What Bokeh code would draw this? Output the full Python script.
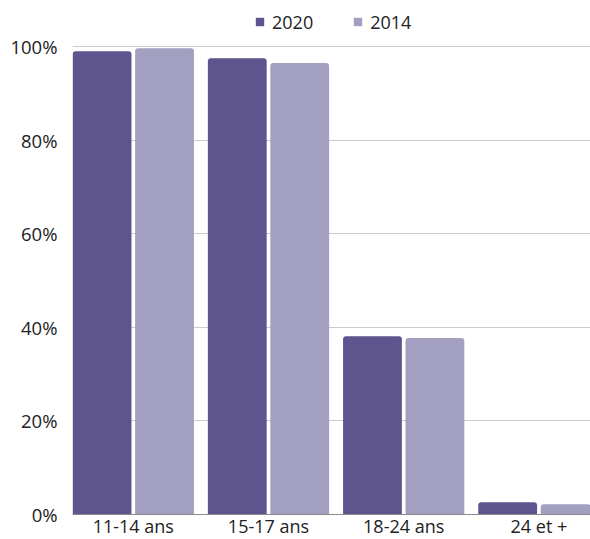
import numpy as np
from bokeh.plotting import figure
from bokeh.models import Range1d, FixedTicker, Legend, LegendItem, Span
from bokeh.core.properties import value
from bokeh.embed import file_html
from bokeh.resources import INLINE

# ---- data ----
categories = ["11-14 ans", "15-17 ans", "18-24 ans", "24 et +"]
series_names = ["2020", "2014"]
values_2020 = [99.0, 97.5, 38.1, 2.6]
values_2014 = [99.6, 96.5, 37.7, 2.2]
y_ticks = [0, 20, 40, 60, 80, 100]
y_tick_labels = ["0%", "20%", "40%", "60%", "80%", "100%"]

# ---- style / layout ----
colors = ["#5e548e", "#a39fc0"]
FONT = "Open Sans"
TEXT = "#222222"
W, H = 590, 539
LEFT = 72
PX_TOP, PX_ZERO, PX_LABEL = 46, 514, 525.5   # screen rows of 100 %, 0 % and label centre
scale = (PX_ZERO - PX_TOP) / 100.0
y_start = -(H - PX_ZERO) / scale
y_end = 100 + PX_TOP / scale
label_y = -(PX_LABEL - PX_ZERO) / scale

idx = np.arange(len(categories))
bar_w = 0.435
offset = 0.231

p = figure(
    width=W, height=H,
    x_range=Range1d(-0.4497, 3.3817), y_range=Range1d(y_start, y_end),
    x_axis_location=None,
    output_backend="svg", toolbar_location=None,
    min_border_left=LEFT, min_border_top=0, min_border_right=0, min_border_bottom=0,
    background_fill_color="white", border_fill_color="white",
)
p.outline_line_color = None
p.xgrid.visible = False

r1 = p.vbar(x=idx - offset, top=values_2020, bottom=0, width=bar_w,
            fill_color=colors[0], line_color=None, border_radius=(3, 3, 0, 0))
r2 = p.vbar(x=idx + offset, top=values_2014, bottom=0, width=bar_w,
            fill_color=colors[1], line_color=None, border_radius=(3, 3, 0, 0))

# baseline
p.add_layout(Span(location=0, dimension="width", line_color="#8a8a8a", line_width=1))

# category labels under the bars
p.text(x=idx, y=[label_y] * len(categories), text=categories,
       text_font=value(FONT), text_font_size="18px", text_color=TEXT,
       text_align="center", text_baseline="middle")

# legend swatches: square markers (size 0 on the plot, drawn only in the legend)
l1 = p.scatter(x=idx - offset, y=values_2020, marker="square", size=0,
               fill_color=colors[0], line_color=None)
l2 = p.scatter(x=idx + offset, y=values_2014, marker="square", size=0,
               fill_color=colors[1], line_color=None)

legend = Legend(
    items=[LegendItem(label=series_names[0], renderers=[l1]),
           LegendItem(label=series_names[1], renderers=[l2])],
    location=(177, H - 34), orientation="horizontal",
    glyph_width=21, glyph_height=25, label_standoff=2, spacing=34,
    padding=0, margin=0, border_line_color=None, background_fill_alpha=0,
    label_text_font=FONT, label_text_font_size="18px", label_text_color=TEXT,
)
p.add_layout(legend)

# y axis
p.yaxis.ticker = FixedTicker(ticks=y_ticks)
p.yaxis.major_label_overrides = {t: l for t, l in zip(y_ticks, y_tick_labels)}
p.yaxis.axis_line_color = None
p.yaxis.major_tick_line_color = None
p.yaxis.minor_tick_line_color = None
p.yaxis.major_tick_out = 0
p.yaxis.major_label_standoff = 15
p.yaxis.major_label_text_font = FONT
p.yaxis.major_label_text_font_size = "18.5px"
p.yaxis.major_label_text_color = TEXT

p.ygrid.grid_line_color = "#cccccc"
p.ygrid.ticker = FixedTicker(ticks=y_ticks)

open("out.html", "w").write(file_html(p, INLINE))
